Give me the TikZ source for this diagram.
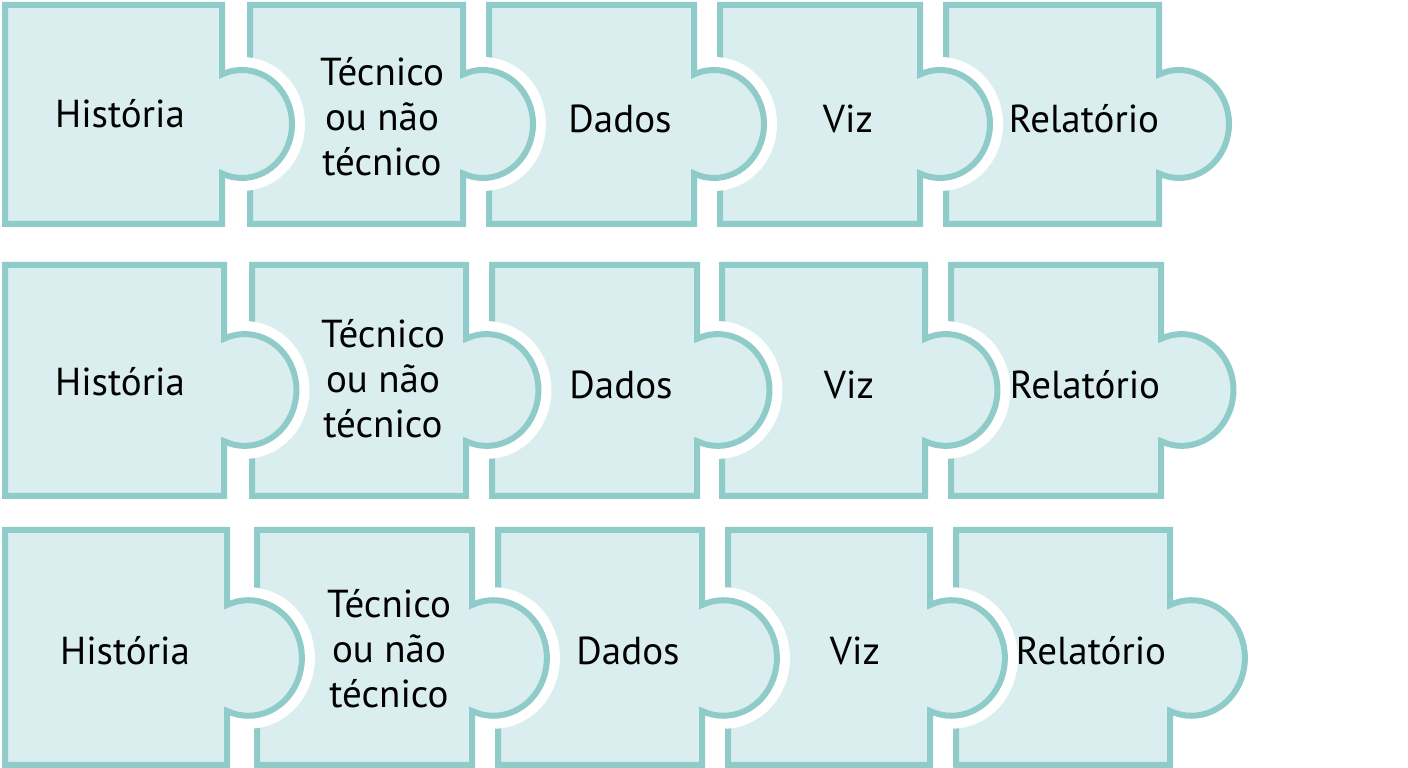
\documentclass[tikz,border=0pt]{standalone}
\usepackage{fontspec}
\setmainfont{PT Sans}
\definecolor{pzfill}{RGB}{218,238,239}
\definecolor{pzline}{RGB}{143,203,200}
\tikzset{
  piece/.style={draw=pzline, fill=pzfill, line width=6pt, line join=miter},
  halo/.style={draw=white, line width=26pt},
  lbl/.style={font=\fontsize{39}{45}\selectfont, text=black, align=center, inner sep=0pt},
}
% #1 L, #2 R, #3 T, #4 B, #5 knob centre y, #6 scale  (pixel units, y downward)
\newcommand\puzzlepiece[6]{%
  \pgfmathsetmacro\PZl{#1+3}%
  \pgfmathsetmacro\PZr{#2-3}%
  \pgfmathsetmacro\PZt{768-#3-3}%
  \pgfmathsetmacro\PZb{768-#4+3}%
  \pgfmathsetmacro\PZc{768-#5}%
  \pgfmathsetmacro\PZrx{50*#6}%
  \pgfmathsetmacro\PZry{54*#6}%
  \pgfmathsetmacro\PZd{20*#6}%
  \pgfmathsetmacro\PZth{180-acos(\PZd/\PZrx)}%
  \pgfmathsetmacro\PZh{\PZry*sin(\PZth)}%
  \pgfmathsetmacro\PZu{\PZc+\PZh}%
  \draw[halo] (\PZr,\PZu) arc[start angle=\PZth, end angle=-\PZth, x radius=\PZrx pt, y radius=\PZry pt];
  \draw[piece] (\PZl,\PZt) -- (\PZr,\PZt) -- (\PZr,\PZu)
     arc[start angle=\PZth, end angle=-\PZth, x radius=\PZrx pt, y radius=\PZry pt]
     -- (\PZr,\PZb) -- (\PZl,\PZb) -- cycle;
}
\begin{document}
\begin{tikzpicture}[x=1pt,y=1pt]
\useasboundingbox (0,0) rectangle (1408,768);
\fill[white] (0,0) rectangle (1408,768);
% Row 1
\puzzlepiece{943}{1162}{2}{227}{124}{1.0}
\puzzlepiece{717}{923}{2}{227}{124}{1.0}
\puzzlepiece{486}{697}{2}{227}{124}{1.0}
\puzzlepiece{247}{466}{2}{227}{124}{1.0}
\puzzlepiece{2}{225}{2}{227}{124}{1.0}
% Row 2
\puzzlepiece{948}{1164}{262}{499}{390}{1.035}
\puzzlepiece{719}{928}{262}{499}{390}{1.035}
\puzzlepiece{489}{700}{262}{499}{390}{1.035}
\puzzlepiece{249}{469}{262}{499}{390}{1.035}
\puzzlepiece{2}{227}{262}{499}{390}{1.035}
% Row 3
\puzzlepiece{953}{1173}{527}{768}{658}{1.07}
\puzzlepiece{725}{933}{527}{768}{658}{1.07}
\puzzlepiece{495}{705}{527}{768}{658}{1.07}
\puzzlepiece{254}{475}{527}{768}{658}{1.07}
\puzzlepiece{2}{230}{527}{768}{658}{1.07}
% Labels row 1
\node[lbl, anchor=base] (h1) at (120,640) {História};
\node[lbl] (t1) at (382,651) {Técnico\\ou não\\técnico};
\node[lbl, anchor=base] (d1) at (620,635) {Dados};
\node[lbl, anchor=base] (v1) at (848,635) {Viz};
\node[lbl, anchor=base] (r1) at (1084,635) {Relatório};
% Labels row 2
\node[lbl, anchor=base] (h2) at (120,372) {História};
\node[lbl] (t2) at (383,389) {Técnico\\ou não\\técnico};
\node[lbl, anchor=base] (d2) at (621,369) {Dados};
\node[lbl, anchor=base] (v2) at (849,369) {Viz};
\node[lbl, anchor=base] (r2) at (1085,369) {Relatório};
% Labels row 3
\node[lbl, anchor=base] (h3) at (125,103) {História};
\node[lbl] (t3) at (389,119) {Técnico\\ou não\\técnico};
\node[lbl, anchor=base] (d3) at (628,103) {Dados};
\node[lbl, anchor=base] (v3) at (855,103) {Viz};
\node[lbl, anchor=base] (r3) at (1091,103) {Relatório};
\end{tikzpicture}
\end{document}
